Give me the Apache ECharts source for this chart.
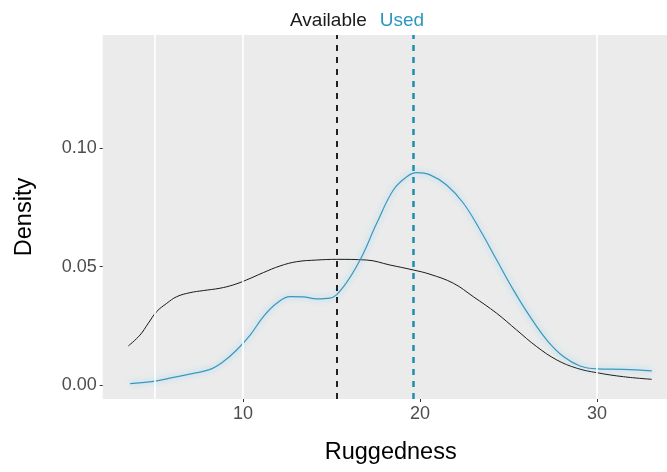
<!DOCTYPE html>
<html>
<head>
<meta charset="utf-8">
<script src="https://cdn.jsdelivr.net/npm/echarts@6/dist/echarts.min.js"></script>
<style>
  html, body { margin: 0; padding: 0; background: #ffffff; }
  #chart { width: 667px; height: 472px; }
</style>
</head>
<body>
<div id="chart"></div>
<script>
// Kernel density of ruggedness at available vs used locations
const availX = [3.52, 4.18, 4.65, 5.12, 5.69, 6.25, 7.0, 7.76, 8.70, 9.45, 10.2, 11.15, 12.09, 13.03, 14.16, 15.3, 16.99, 18.3, 19.62, 20.56, 21.88, 23.01, 24.33, 25.46, 26.59, 27.72, 28.85, 29.98, 31.49, 33.09];
const availY = [0.0165, 0.0211, 0.0261, 0.0310, 0.0345, 0.0373, 0.0390, 0.0399, 0.0409, 0.0423, 0.0444, 0.0475, 0.0503, 0.0521, 0.0528, 0.0531, 0.0528, 0.0507, 0.0486, 0.0468, 0.0430, 0.0373, 0.0303, 0.0232, 0.0162, 0.0106, 0.0071, 0.0052, 0.0035, 0.0024];

const usedX = [3.62, 4.84, 6.06, 7.19, 8.14, 8.89, 9.64, 10.4, 11.15, 11.9, 12.66, 13.4, 14.16, 14.9, 15.67, 16.61, 17.55, 18.49, 19.25, 19.81, 20.56, 21.5, 22.45, 23.39, 24.33, 25.27, 26.21, 27.16, 28.1, 29.04, 29.98, 31.49, 33.09];
const usedY = [0.0006, 0.0014, 0.0032, 0.0049, 0.0066, 0.0099, 0.0148, 0.0211, 0.0289, 0.0345, 0.0373, 0.0372, 0.0364, 0.0367, 0.0415, 0.0528, 0.0683, 0.0824, 0.0880, 0.0897, 0.0888, 0.0845, 0.0768, 0.0655, 0.0528, 0.0402, 0.0289, 0.0190, 0.0120, 0.0080, 0.0068, 0.0066, 0.0060];

// Mean ruggedness of each group (dashed reference lines)
const availMean = 15.3;
const usedMean = 19.6;

// Axis ticks and panel grid lines
const xTicks = [10, 20, 30];
const yTicks = [0, 0.05, 0.10];
const gridXLines = [5, 10, 30];

const pairs = (xs, ys) => xs.map((x, i) => [x, ys[i]]);

const chart = echarts.init(document.getElementById('chart'), null, { renderer: 'canvas' });

const fontFamily = '"Liberation Sans", Arial, Helvetica, sans-serif';

chart.setOption({
  animation: false,
  backgroundColor: '#ffffff',
  grid: {
    left: 102.7,
    top: 35,
    width: 576,
    height: 364,
    outerBoundsMode: 'none',
    containLabel: false,
    show: true,
    backgroundColor: '#ebebeb',
    borderWidth: 0
  },
  legend: {
    top: 6,
    left: 280,
    icon: 'rect',
    itemWidth: 0,
    itemHeight: 0,
    itemGap: 8,
    selectedMode: false,
    textStyle: { fontSize: 19, fontFamily: fontFamily },
    data: [
      { name: 'Available', textStyle: { color: '#1a1a1a' } },
      { name: 'Used', textStyle: { color: '#2b97bd' } }
    ]
  },
  xAxis: {
    type: 'value',
    min: 2.073,
    max: 34.61,
    name: 'Ruggedness',
    nameLocation: 'middle',
    nameGap: 42,
    nameTextStyle: { fontSize: 23.5, color: '#000000', fontFamily: fontFamily },
    axisLine: { show: false, onZero: false },
    axisTick: {
      show: true,
      length: 3,
      customValues: xTicks,
      lineStyle: { color: '#333333', width: 1 }
    },
    axisLabel: {
      customValues: xTicks,
      fontSize: 18,
      color: '#4d4d4d',
      margin: 6,
      fontFamily: fontFamily,
      formatter: v => String(v)
    },
    splitLine: { show: false }
  },
  yAxis: {
    type: 'value',
    min: -0.00592,
    max: 0.1479,
    name: 'Density',
    nameLocation: 'middle',
    nameGap: 66,
    nameTextStyle: { fontSize: 23.5, color: '#000000', fontFamily: fontFamily },
    axisLine: { show: false, onZero: false },
    axisTick: {
      show: true,
      length: 3,
      customValues: yTicks,
      lineStyle: { color: '#333333', width: 1 }
    },
    axisLabel: {
      customValues: yTicks,
      fontSize: 18,
      color: '#4d4d4d',
      margin: 6,
      fontFamily: fontFamily,
      formatter: v => v.toFixed(2)
    },
    splitLine: { show: false }
  },
  series: [
    {
      name: 'panel-grid',
      type: 'line',
      data: [],
      z: 1,
      silent: true,
      markLine: {
        silent: true,
        symbol: 'none',
        label: { show: false },
        lineStyle: { color: '#ffffff', width: 1.6, type: 'solid' },
        data: gridXLines.map(v => ({ xAxis: v }))
      }
    },
    {
      name: 'Available',
      type: 'line',
      data: pairs(availX, availY),
      smooth: 0.4,
      showSymbol: false,
      z: 3,
      lineStyle: { color: '#1a1a1a', width: 1 },
      itemStyle: { color: '#1a1a1a' },
      markLine: {
        silent: true,
        symbol: 'none',
        label: { show: false },
        lineStyle: { color: '#222222', width: 2, type: [6, 6] },
        data: [{ xAxis: availMean }]
      }
    },
    {
      name: 'Used',
      type: 'line',
      data: pairs(usedX, usedY),
      smooth: 0.4,
      showSymbol: false,
      z: 4,
      lineStyle: {
        color: '#3a98bf',
        width: 1.2,
        shadowColor: 'rgba(120, 205, 240, 1)',
        shadowBlur: 6
      },
      itemStyle: { color: '#2b97bd' },
      markLine: {
        silent: true,
        symbol: 'none',
        label: { show: false },
        lineStyle: { color: '#1e8fae', width: 2.5, type: [6, 6] },
        data: [{ xAxis: usedMean }]
      }
    }
  ]
});
</script>
</body>
</html>
